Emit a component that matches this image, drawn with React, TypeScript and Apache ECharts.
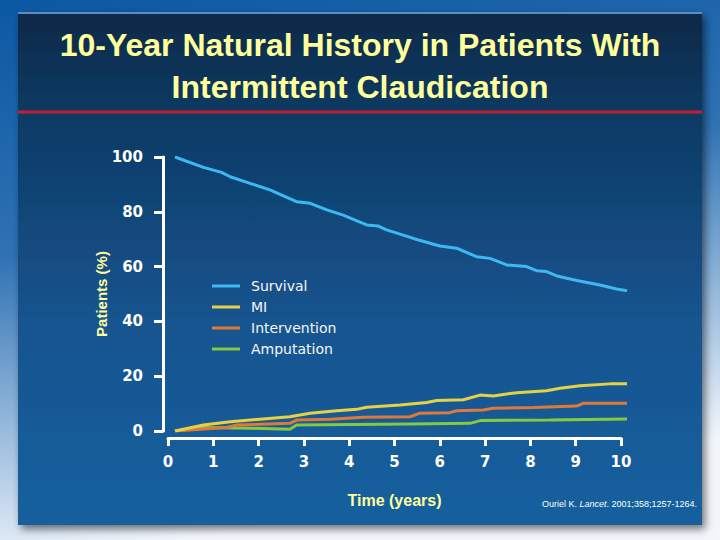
import { useEffect, useRef } from 'react';
import * as echarts from 'echarts';

// values (years, % of patients)
const survivalYears = [0, 0.63, 1.03, 1.22, 1.66, 2.1, 2.69, 2.99, 3.36, 3.72, 4.24, 4.5, 4.68, 5.05, 5.35, 5.86, 6.23, 6.67, 6.97, 7.34, 7.78, 8.0, 8.22, 8.45, 8.89, 9.4, 9.77, 10];
const survivalPct = [100, 96.2, 94.4, 92.8, 90.4, 88.0, 83.7, 83.1, 80.7, 78.8, 75.2, 74.8, 73.4, 71.5, 69.9, 67.5, 66.7, 63.6, 63.0, 60.6, 60.0, 58.5, 58.2, 56.6, 54.9, 53.3, 51.8, 51.2];

const miYears = [0, 0.63, 1.22, 1.88, 2.54, 2.99, 3.58, 4.02, 4.24, 4.98, 5.57, 5.79, 6.38, 6.75, 7.04, 7.56, 8.22, 8.52, 8.96, 9.62, 10];
const miPct = [0, 2.2, 3.4, 4.3, 5.2, 6.5, 7.4, 7.9, 8.7, 9.5, 10.4, 11.1, 11.4, 13.1, 12.8, 14.0, 14.7, 15.6, 16.5, 17.2, 17.2];

const interventionYears = [0, 1.14, 1.37, 2.54, 2.69, 3.43, 4.17, 5.2, 5.42, 6.08, 6.23, 6.82, 7.04, 7.93, 8.89, 9.03, 10];
const interventionPct = [0, 1.3, 2.2, 2.8, 4.0, 4.3, 5.0, 5.2, 6.5, 6.7, 7.4, 7.7, 8.3, 8.6, 9.1, 10.1, 10.1];

const amputationYears = [0, 0.62, 1.66, 2.54, 2.69, 5.2, 6.53, 6.75, 8.3, 10];
const amputationPct = [0, 1.3, 1.0, 0.6, 2.2, 2.6, 2.8, 3.8, 4.0, 4.4];

const seriesNames = ['Survival', 'MI', 'Intervention', 'Amputation'];
const seriesColors = ['#3db8f2', '#e6d043', '#e07838', '#86c83e'];

const toPairs = (xs: number[], ys: number[]) => xs.map((x, i) => [x, ys[i]]);

export default function App() {
  const ref = useRef<HTMLDivElement>(null);

  useEffect(() => {
    if (!ref.current) return;
    const chart = echarts.init(ref.current, null, { renderer: 'svg' });

    const allData = [
      toPairs(survivalYears, survivalPct),
      toPairs(miYears, miPct),
      toPairs(interventionYears, interventionPct),
      toPairs(amputationYears, amputationPct),
    ];

    const option: any = {
      animation: false,
      backgroundColor: new echarts.graphic.LinearGradient(0, 0, 0.25, 1, [
        { offset: 0, color: '#0b58a3' },
        { offset: 0.45, color: '#2f72b4' },
        { offset: 0.8, color: '#a9c6e3' },
        { offset: 1, color: '#f2f6fb' },
      ]),
      textStyle: { fontFamily: 'DejaVu Sans' },
      graphic: [
        {
          type: 'rect',
          z: -10,
          shape: { x: 18, y: 12, width: 684, height: 513 },
          style: {
            fill: new echarts.graphic.LinearGradient(0, 0, 0, 1, [
              { offset: 0, color: '#0c2948' },
              { offset: 0.2, color: '#0f3a64' },
              { offset: 0.6, color: '#14548f' },
              { offset: 1, color: '#17609f' },
            ]),
            shadowBlur: 8,
            shadowOffsetX: 3,
            shadowOffsetY: 4,
            shadowColor: 'rgba(0,0,0,0.55)',
          },
        },
        {
          type: 'line',
          z: -9,
          shape: { x1: 18, y1: 13, x2: 702, y2: 13 },
          style: { stroke: '#5d8cc0', lineWidth: 2 },
        },
        {
          type: 'line',
          z: -9,
          shape: { x1: 18, y1: 112, x2: 702, y2: 112 },
          style: { stroke: '#c0202e', lineWidth: 3 },
        },
        {
          type: 'text',
          x: 360,
          y: 45,
          style: {
            text: '10-Year Natural History in Patients With',
            fill: '#ffff9c',
            font: 'bold 32px "Liberation Sans", Arial, sans-serif',
            textAlign: 'center',
            textVerticalAlign: 'middle',
          },
        },
        {
          type: 'text',
          x: 360,
          y: 87,
          style: {
            text: 'Intermittent Claudication',
            fill: '#ffff9c',
            font: 'bold 32px "Liberation Sans", Arial, sans-serif',
            textAlign: 'center',
            textVerticalAlign: 'middle',
          },
        },
        {
          type: 'text',
          x: 542,
          y: 504,
          style: {
            text: '{n|Ouriel K. }{i|Lancet}{n|. 2001;358;1257-1264.}',
            textVerticalAlign: 'middle',
            rich: {
              n: { fill: '#ffffff', fontSize: 9, fontFamily: '"Liberation Sans", Arial, sans-serif' },
              i: { fill: '#ffffff', fontSize: 9, fontStyle: 'italic', fontFamily: '"Liberation Sans", Arial, sans-serif' },
            },
          },
        },
      ],
      legend: {
        orient: 'vertical',
        left: 207,
        top: 274,
        itemWidth: 28,
        itemHeight: 3,
        itemGap: 7,
        icon: 'rect',
        data: seriesNames,
        textStyle: { color: '#f6f6f6', fontSize: 14, lineHeight: 14, fontFamily: 'DejaVu Sans', padding: [0, 0, 0, 6] },
      },
      grid: [
        { left: 175, width: 452, top: 157, height: 274 },
        { left: 168, width: 453, top: 157, height: 274 },
      ],
      xAxis: [
        { type: 'value', gridIndex: 0, min: 0, max: 10, show: false },
        {
          type: 'value',
          gridIndex: 1,
          min: 0,
          max: 10,
          interval: 1,
          offset: 7,
          name: 'Time (years)',
          nameLocation: 'middle',
          nameGap: 54,
          nameMoveOverlap: false,
          nameTextStyle: { color: '#ffff9c', fontSize: 16, fontWeight: 'bold', fontFamily: '"Liberation Sans", Arial, sans-serif' },
          axisLine: { show: true, onZero: false, lineStyle: { color: '#ffffff', width: 3 } },
          axisTick: { show: true, length: 8, lineStyle: { color: '#ffffff', width: 3 } },
          axisLabel: { color: '#ffffff', fontSize: 15, fontWeight: 'bold', margin: 16 },
          splitLine: { show: false },
        },
      ],
      yAxis: [
        {
          type: 'value',
          gridIndex: 0,
          min: 0,
          max: 100,
          interval: 20,
          offset: 12,
          name: 'Patients (%)',
          nameLocation: 'middle',
          nameGap: 54,
          nameMoveOverlap: false,
          nameTextStyle: { color: '#ffff9c', fontSize: 15, fontWeight: 'bold', fontFamily: '"Liberation Sans", Arial, sans-serif' },
          axisLine: { show: true, onZero: false, lineStyle: { color: '#ffffff', width: 3 } },
          axisTick: { show: true, length: 9, lineStyle: { color: '#ffffff', width: 3 } },
          axisLabel: { color: '#ffffff', fontSize: 15, fontWeight: 'bold', margin: 20 },
          splitLine: { show: false },
        },
        { type: 'value', gridIndex: 1, min: 0, max: 100, show: false },
      ],
      series: seriesNames.map((name, i) => ({
        name,
        type: 'line',
        xAxisIndex: 0,
        yAxisIndex: 0,
        data: allData[i],
        showSymbol: false,
        symbol: 'none',
        color: seriesColors[i],
        lineStyle: { color: seriesColors[i], width: 3 },
        z: 10 - i,
      })),
    };

    chart.setOption(option);
    return () => chart.dispose();
  }, []);

  return <div ref={ref} style={{ position: 'fixed', left: 0, top: 0, width: 720, height: 540 }} />;
}
